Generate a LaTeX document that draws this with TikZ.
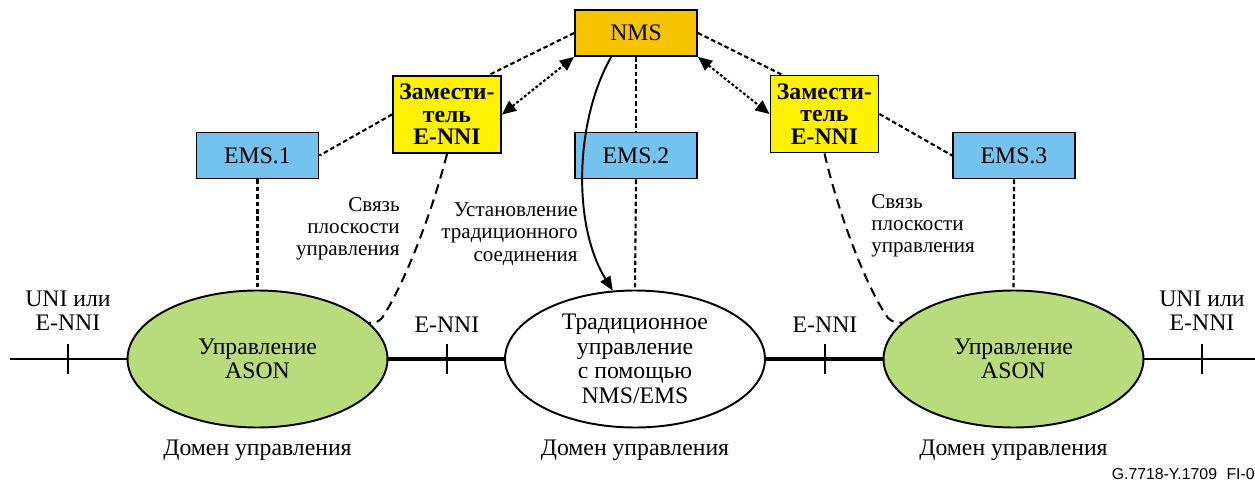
\documentclass[tikz,border=0pt]{standalone}
\usepackage{fontspec}
\setmainfont{Liberation Serif}
\setsansfont{Liberation Sans}
\usetikzlibrary{shapes.geometric,arrows.meta,calc}

\definecolor{nmsfill}{HTML}{F7C300}
\definecolor{proxyfill}{HTML}{FFF200}
\definecolor{emsfill}{HTML}{74C3EE}
\definecolor{asonfill}{HTML}{B8DB7C}

\begin{document}
\begin{tikzpicture}[x=0.02cm,y=-0.02cm,
  txt/.style={font=\fontsize{13.5}{13.6}\selectfont, inner sep=0pt, align=center},
  sidetxt/.style={font=\fontsize{12}{12.6}\selectfont, inner sep=0pt},
  mgmtbox/.style={draw, line width=1.1pt, inner sep=0pt, minimum width=2.44cm,
    minimum height=0.92cm, font=\fontsize{13.5}{13.6}\selectfont},
  proxybox/.style={draw, line width=1.1pt, inner sep=0pt, fill=proxyfill,
    minimum width=2.16cm, minimum height=1.54cm, align=center,
    font=\bfseries\fontsize{13.5}{12.8}\selectfont},
  domainshape/.style={ellipse, draw, line width=1.1pt, inner sep=0pt,
    minimum width=5.2cm, minimum height=2.74cm, align=center},
  mgmtlink/.style={line width=1.2pt, dash pattern=on 2.6pt off 1.6pt},
  proxylink/.style={line width=1.2pt, dash pattern=on 1.6pt off 1.2pt,
    {Triangle[length=8pt,width=7pt]}-{Triangle[length=8pt,width=7pt]}},
  cplink/.style={line width=1.15pt, dash pattern=on 5.5pt off 3.5pt},
  thinline/.style={line width=1.4pt},
  thickline/.style={line width=2.8pt},
  tickmark/.style={line width=1.4pt}
]
\useasboundingbox (0,0) rectangle (1255,483);

% management boxes
\node[mgmtbox, fill=nmsfill] (nms) at (636,33) {NMS};
\node[proxybox] (pl) at (447,114.5) {Замести-\\тель\\E-NNI};
\node[proxybox] (pr) at (824.5,114) {Замести-\\тель\\E-NNI};
\node[mgmtbox, fill=emsfill] (ems1) at (257.5,155.5) {EMS.1};
\node[mgmtbox, fill=emsfill] (ems2) at (636,155.5) {EMS.2};
\node[mgmtbox, fill=emsfill] (ems3) at (1014,155.5) {EMS.3};

% domains
\node[domainshape, fill=asonfill, font=\fontsize{13.5}{13.6}\selectfont] (e1) at (257.5,359) {Управление\\ASON};
\node[domainshape, fill=white, font=\fontsize{13.5}{14}\selectfont] (e2) at (635,359)
  {Традиционное\\управление\\с помощью\\NMS/EMS};
\node[domainshape, fill=asonfill, font=\fontsize{13.5}{13.6}\selectfont] (e3) at (1013.5,359) {Управление\\ASON};

% transport line
\coordinate (lend) at (10,359);
\coordinate (rend) at (1255,359);
\draw[thinline] (lend) -- (e1.west);
\draw[thickline] (e1.east) -- (e2.west);
\draw[thickline] (e2.east) -- (e3.west);
\draw[thinline] (e3.east) -- (rend);
\foreach \x in {68,447,825,1202} \draw[tickmark] (\x,344) -- (\x,374);

% management links
\draw[mgmtlink] (nms.west) -- ($(pl.north west)!0.88!(pl.north east)$);
\draw[mgmtlink] (pl.west) -- (ems1.east);
\draw[mgmtlink] (nms.east) -- ($(pr.north west)!0.11!(pr.north east)$);
\draw[mgmtlink] (pr.east) -- (ems3.west);
\draw[mgmtlink] (nms.south) -- (ems2.north);
\draw[mgmtlink] (ems1.south) -- (e1.north);
\draw[mgmtlink] (ems2.south) -- (e2.north);
\draw[mgmtlink] (ems3.south) -- (e3.north);
\draw[proxylink] (pl.east) -- (nms.south west);
\draw[proxylink] (nms.south east) -- (pr.west);

% control plane links, hooking onto the domain border
\draw[cplink] (pl.south) .. controls (430,220) and (402,288) .. (382,318)
  .. controls (378,322) and (374,324) .. (e1.18);
\draw[cplink] (pr.south) .. controls (840,220) and (868,290) .. (888,318)
  .. controls (892,322) and (897,323) .. (e3.162);

% connection set-up
\draw[line width=1.1pt, -{Triangle[length=8pt,width=6.5pt]}]
  ($(nms.south west)!0.3!(nms.south east)$) .. controls (575,120) and (572,225) .. (e2.108);

% labels
\node[sidetxt, align=right, anchor=east] (cpl) at (400,229) {Связь\\плоскости\\управления};
\node[sidetxt, align=right, anchor=east] (setup) at (578,234) {Установление\\традиционного\\соединения};
\node[sidetxt, align=left, anchor=west] (cpr) at (871,226) {Связь\\плоскости\\управления};

\node[txt] (ifl) at (68,311) {UNI или\\E-NNI};
\node[txt] (ifr) at (1202,311) {UNI или\\E-NNI};
\node[txt] (nni1) at (447,325) {E-NNI};
\node[txt] (nni2) at (825,325) {E-NNI};

\node[txt] (d1) at (257.5,450) {Домен управления};
\node[txt] (d2) at (635,450) {Домен управления};
\node[txt] (d3) at (1013.5,450) {Домен управления};

\node[inner sep=0pt, anchor=base east, font=\sffamily\fontsize{9}{9.5}\selectfont] (ref)
  at (1255,479) {G.7718-Y.1709\hspace{0.6em}FI-0};
\end{tikzpicture}
\end{document}
